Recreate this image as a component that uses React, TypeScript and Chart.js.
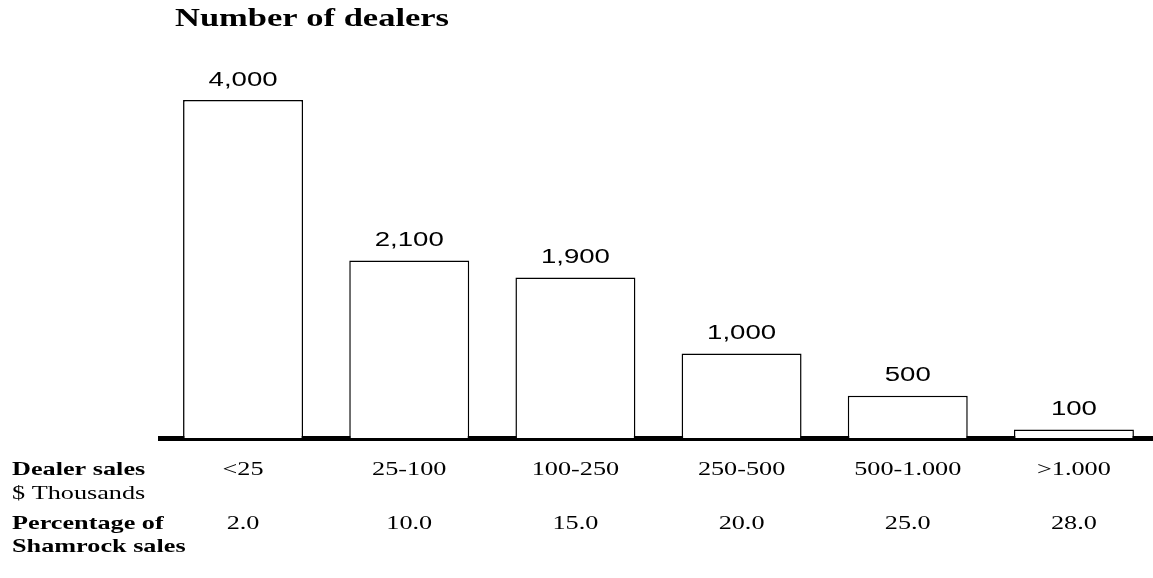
import React, { useEffect, useRef } from "react";
import { Chart, registerables } from "chart.js";

Chart.register(...registerables);

// ---- data ----
const categories = ["<25", "25-100", "100-250", "250-500", "500-1.000", ">1.000"];
const dealerCounts = [4000, 2100, 1900, 1000, 500, 100];
const shamrockShare = [2.0, 10.0, 15.0, 20.0, 25.0, 28.0];
const titleText = "Number of dealers";
const rowLabelsTop = ["Dealer sales", "$ Thousands"];
const rowLabelsBottom = ["Percentage of", "Shamrock sales"];

const SX = 1.38; // horizontal stretch of the original artwork
const SERIF = "'Liberation Serif', 'Times New Roman', serif";
const SANS = "'Liberation Sans', Arial, sans-serif";

function drawStretched(
  ctx: CanvasRenderingContext2D,
  text: string,
  x: number,
  y: number,
  font: string,
  align: "left" | "center"
) {
  ctx.save();
  ctx.font = font;
  ctx.textBaseline = "alphabetic";
  ctx.textAlign = "left";
  const w = ctx.measureText(text).width * SX;
  const left = align === "center" ? x - w / 2 : x;
  ctx.translate(left, y);
  ctx.scale(SX, 1);
  ctx.fillStyle = "#000";
  ctx.fillText(text, 0, 0);
  ctx.restore();
}

const textPlugin = {
  id: "textPlugin",
  afterDraw(chart: any) {
    const ctx: CanvasRenderingContext2D = chart.ctx;
    const xScale = chart.scales.x;
    const meta = chart.getDatasetMeta(0);

    // title
    drawStretched(ctx, titleText, 175, 26, `bold 25px ${SERIF}`, "left");

    // value labels above bars
    meta.data.forEach((bar: any, i: number) => {
      drawStretched(
        ctx,
        dealerCounts[i].toLocaleString("en-US"),
        bar.x,
        bar.y - 14.5,
        `20px ${SANS}`,
        "center"
      );
    });

    // left row labels
    drawStretched(ctx, rowLabelsTop[0], 12, 475, `bold 19px ${SERIF}`, "left");
    drawStretched(ctx, rowLabelsTop[1], 12, 499, `19px ${SERIF}`, "left");
    drawStretched(ctx, rowLabelsBottom[0], 12, 529, `bold 19px ${SERIF}`, "left");
    drawStretched(ctx, rowLabelsBottom[1], 12, 552, `bold 19px ${SERIF}`, "left");

    // category and percentage rows
    categories.forEach((c, i) => {
      const px = xScale.getPixelForValue(i);
      drawStretched(ctx, c, px, 475, `19px ${SERIF}`, "center");
      drawStretched(ctx, shamrockShare[i].toFixed(1), px, 529, `19px ${SERIF}`, "center");
    });
  },
};

export default function App() {
  const ref = useRef<HTMLCanvasElement | null>(null);

  useEffect(() => {
    if (!ref.current) return;
    const chart = new Chart(ref.current, {
      type: "bar",
      data: {
        labels: categories,
        datasets: [
          {
            data: dealerCounts,
            backgroundColor: "#ffffff",
            borderColor: "#000000",
            borderWidth: 1.5,
            borderSkipped: "bottom",
            barPercentage: 0.722,
            categoryPercentage: 1,
          },
        ],
      },
      options: {
        responsive: false,
        animation: false,
        devicePixelRatio: 1,
        layout: { padding: { left: 160, right: 3, top: 100, bottom: 0 } },
        plugins: {
          legend: { display: false },
          title: { display: false },
          tooltip: { enabled: false },
        },
        scales: {
          x: {
            display: true,
            grid: { display: false, drawTicks: false },
            ticks: { display: false },
            border: { display: true, color: "#000000", width: 5 },
            afterFit: (s: any) => {
              s.height = 140;
            },
          },
          y: { display: false, min: 0, max: 4000 },
        },
      } as any,
      plugins: [textPlugin],
    });
    return () => chart.destroy();
  }, []);

  return (
    <div
      style={{
        position: "absolute",
        left: 0,
        top: 0,
        width: 1153,
        height: 578,
        overflow: "hidden",
        background: "#ffffff",
      }}
    >
      <canvas ref={ref} width={1160} height={578} style={{ display: "block" }} />
    </div>
  );
}
